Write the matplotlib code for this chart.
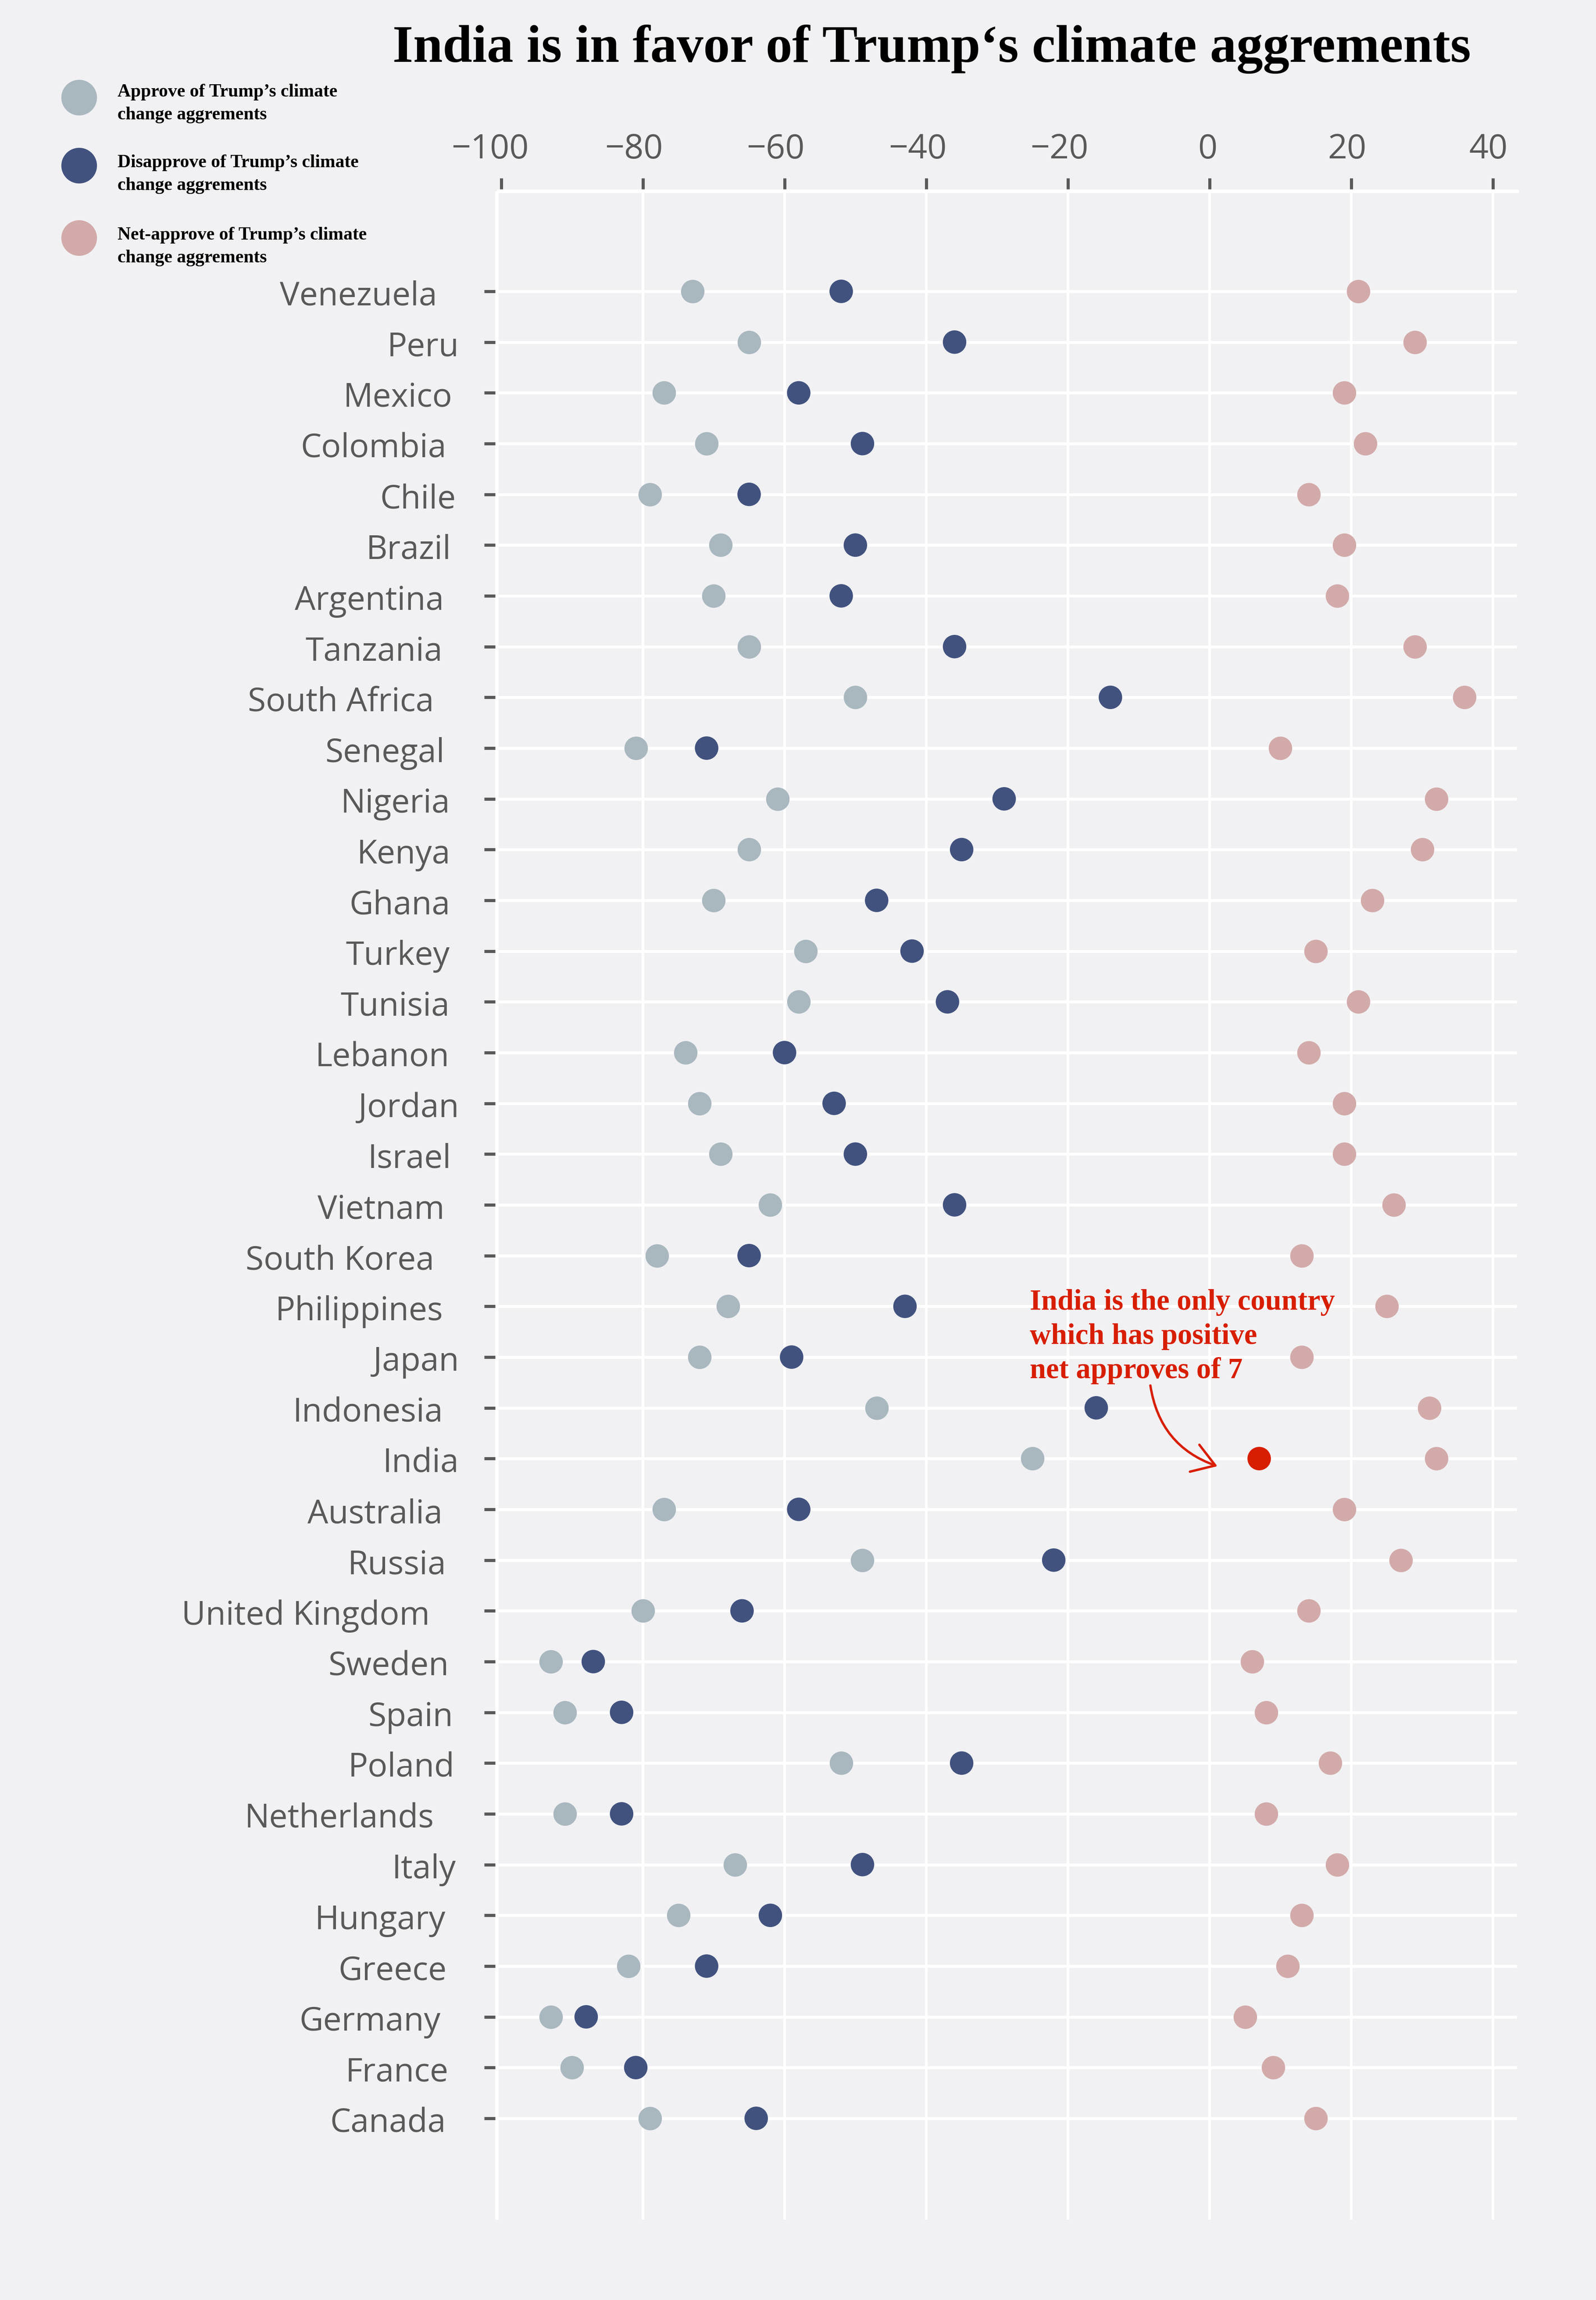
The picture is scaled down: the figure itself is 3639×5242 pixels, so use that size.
import matplotlib
matplotlib.use('Agg')
import matplotlib.pyplot as plt
from matplotlib.lines import Line2D
from matplotlib.transforms import ScaledTranslation

# rows from the bottom of the chart to the top
countries = ['Canada', 'France', 'Germany', 'Greece', 'Hungary', 'Italy', 'Netherlands',
             'Poland', 'Spain', 'Sweden', 'United Kingdom', 'Russia', 'Australia', 'India',
             'Indonesia', 'Japan', 'Philippines', 'South Korea', 'Vietnam', 'Israel', 'Jordan',
             'Lebanon', 'Tunisia', 'Turkey', 'Ghana', 'Kenya', 'Nigeria', 'Senegal',
             'South Africa', 'Tanzania', 'Argentina', 'Brazil', 'Chile', 'Colombia', 'Mexico',
             'Peru', 'Venezuela']
approve = [-79, -90, -93, -82, -75, -67, -91, -52, -91, -93, -80, -49, -77, -25,
           -47, -72, -68, -78, -62, -69, -72, -74, -58, -57, -70, -65, -61, -81,
           -50, -65, -70, -69, -79, -71, -77, -65, -73]
disapprove = [-64, -81, -88, -71, -62, -49, -83, -35, -83, -87, -66, -22, -58, 7,
              -16, -59, -43, -65, -36, -50, -53, -60, -37, -42, -47, -35, -29, -71,
              -14, -36, -52, -50, -65, -49, -58, -36, -52]
net_approve = [15, 9, 5, 11, 13, 18, 8, 17, 8, 6, 14, 27, 19, 32,
               31, 13, 25, 13, 26, 19, 19, 14, 21, 15, 23, 30, 32, 10,
               36, 29, 18, 19, 14, 22, 19, 29, 21]
x_ticks = [-100, -80, -60, -40, -20, 0, 20, 40]
x_labels = ['\u2212100', '\u221280', '\u221260', '\u221240', '\u221220', '0', '20', '40']
# tick labels sit left of their ticks in the original (pixels)
x_label_nudge = [-25, -20, -20, -20, -20, -5, -10, -11]
# how far each country name stops short of the ticks (pixels)
label_gaps = [62, 56, 74, 60, 63, 39, 89, 42, 46, 56, 99, 61, 70, 32,
              69, 32, 69, 89, 65, 50, 32, 54, 54, 53, 52, 52, 53, 65,
              89, 70, 67, 50, 39, 61, 47, 32, 82]

BG = '#F1F1F3'
GREY = '#A9B7BF'
BLUE = '#41527F'
PINK = '#D3AAAA'
RED = '#D81E00'
TEXT = '#595959'

W, H = 3639, 5242
fig = plt.figure(figsize=(W / 300, H / 300), dpi=300, facecolor=BG)
left, right, top, bottom = 1133, 3459, 432.7, 5059.3
ax = fig.add_axes([left / W, 1 - bottom / H, (right - left) / W, (bottom - top) / H], facecolor=BG)
x_min, x_max = -100.6, 43.4
ax.set_xlim(x_min, x_max)
ax.set_ylim(-2, 38)

rows = list(range(len(countries)))
top_line = 37.97
ax.hlines(rows, x_min, x_max, color='white', lw=1.6, zorder=1)
ax.hlines(top_line, x_min, x_max + 0.25, color='white', lw=2.0, zorder=1, clip_on=False)
ax.vlines(x_ticks[1:], -2, top_line, color='white', lw=1.45, zorder=1)
ax.vlines(x_min, -2, top_line, color='white', lw=1.9, zorder=1, clip_on=False)

colors = [RED if c == 'India' else BLUE for c in countries]
ax.scatter(approve, rows, s=165, color=GREY, lw=0, zorder=3)
ax.scatter(disapprove, rows, s=165, color=colors, lw=0, zorder=3)
ax.scatter(net_approve, rows, s=165, color=PINK, lw=0, zorder=3)

for s in ax.spines.values():
    s.set_visible(False)
ax.spines['left'].set_position(('outward', 1.0))
ax.spines['top'].set_position(('outward', 0.4))
ax.xaxis.tick_top()
ax.set_xticks(x_ticks, x_labels)
ax.set_yticks(rows, countries)
ax.tick_params(axis='x', length=6, width=1.7, color=TEXT, labelcolor=TEXT, labelsize=18.5, pad=6.4)
ax.tick_params(axis='y', length=6, width=1.7, color=TEXT, labelcolor=TEXT, labelsize=18, pad=6)
for lab, nudge in zip(ax.get_xticklabels(), x_label_nudge):
    lab.set_fontfamily('Open Sans')
    lab.set_transform(lab.get_transform() + ScaledTranslation(nudge / 300, 0, fig.dpi_scale_trans))
for tick, gap in zip(ax.yaxis.get_major_ticks(), label_gaps):
    tick.label1.set_fontfamily('Open Sans')
    tick.label1.set_x(-gap / (right - left))
    tick.label1.set_transform(tick.label1.get_transform() + ScaledTranslation(0, -3 / 300, fig.dpi_scale_trans))

# title
fig.text(2124 / W, 1 - 112 / H, 'India is in favor of Trump\u2018s climate aggrements',
         family='Liberation Serif', weight='bold', fontsize=29, ha='center', va='center', color='black')

# legend drawn by hand
legend_items = [(GREY, 222, 236, "Approve of Trump\u2019s climate"),
                (BLUE, 377, 397, "Disapprove of Trump\u2019s climate"),
                (PINK, 542, 562, "Net-approve of Trump\u2019s climate")]
for col, ypx, text_y, txt in legend_items:
    fig.add_artist(Line2D([180 / W], [1 - ypx / H], marker='o', ms=19.5, color=col, mew=0, ls='none',
                          transform=fig.transFigure))
    fig.text(268 / W, 1 - text_y / H, txt + '\nchange aggrements', family='Liberation Serif', weight='bold',
             fontsize=10, va='center', ha='left', color='black', linespacing=1.5)

# annotation for India
ax.text(-25.4, 15.40, 'India is the only country\nwhich has positive\nnet approves of 7', color=RED,
        family='Liberation Serif', weight='bold', fontsize=16, va='center', ha='left', linespacing=1.35,
        zorder=4)
ax.annotate('', xy=(1.1, 12.85), xytext=(-8.36, 14.44),
            arrowprops=dict(arrowstyle='->,head_length=0.4,head_width=0.26', color=RED, lw=1.3,
                            mutation_scale=30, shrinkA=0, shrinkB=0,
                            connectionstyle='arc3,rad=0.3'), zorder=4)

fig.savefig('out.png', dpi=300, facecolor=BG)
